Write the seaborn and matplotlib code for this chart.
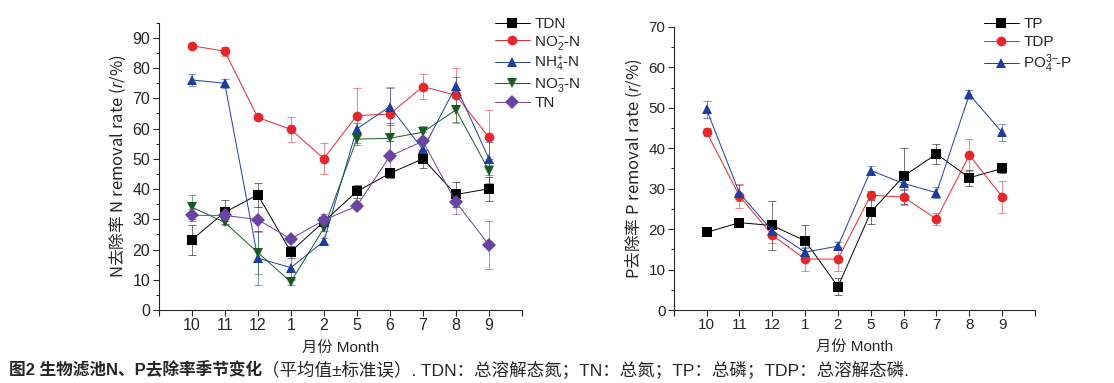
import matplotlib
matplotlib.use('Agg')
import matplotlib.pyplot as plt
import pandas as pd
import seaborn as sns
from matplotlib.ticker import MultipleLocator

###########################################################################################
# data

months = ['10', '11', '12', '1', '2', '5', '6', '7', '8', '9']

# N removal rates
tdn = [23.2, 32.3, 38.1, 19.3, 29.2, 39.2, 45.2, 50.0, 38.2, 40.1]
tdn_err = [5.0, 4.0, 4.0, 2.0, 1.5, 2.0, 1.5, 3.0, 4.0, 4.0]
no2 = [87.4, 85.6, 63.7, 59.7, 50.1, 64.3, 64.8, 73.9, 71.0, 57.1]
no2_err = [1.0, 1.5, 1.0, 4.0, 5.0, 9.0, 9.0, 4.0, 9.0, 9.0]
nh4 = [76.1, 75.0, 17.2, 14.0, 22.7, 59.9, 67.3, 53.1, 74.0, 50.0]
nh4_err = [2.0, 1.5, 9.0, 4.0, 1.0, 2.0, 6.0, 3.0, 3.0, 5.5]
no3 = [34.0, 29.0, 19.0, 9.3, 27.0, 56.5, 56.8, 58.8, 66.2, 46.1]
no3_err = [4.0, 1.0, 7.0, 1.0, 1.0, 2.0, 5.0, 2.0, 4.0, 4.0]
tn = [31.3, 31.3, 29.9, 23.5, 29.7, 34.4, 50.9, 55.8, 35.7, 21.5]
tn_err = [2.0, 2.0, 4.0, 1.0, 2.0, 1.0, 5.0, 3.0, 4.0, 8.0]

# P removal rates
tp = [19.2, 21.6, 20.9, 17.1, 5.8, 24.2, 33.1, 38.6, 32.7, 35.0]
tp_err = [0.8, 1.0, 6.0, 4.0, 2.0, 3.0, 7.0, 2.5, 2.0, 1.0]
tdp = [44.0, 28.2, 18.5, 12.6, 12.6, 28.4, 27.9, 22.5, 38.3, 28.0]
tdp_err = [1.0, 3.0, 2.0, 3.0, 3.0, 1.0, 2.0, 1.5, 4.0, 4.0]
po4 = [49.6, 28.9, 19.6, 14.3, 15.8, 34.5, 31.3, 29.0, 53.3, 43.9]
po4_err = [2.0, 2.0, 1.5, 1.0, 1.0, 1.0, 1.5, 1.3, 1.0, 2.0]

n_labels = ['TDN', r'NO$_2^{-}$-N', r'NH$_4^{+}$-N', r'NO$_3^{-}$-N', 'TN']
p_labels = ['TP', 'TDP', r'PO$_4^{3\!-}\!\!$-P']

###########################################################################################
# styling

sns.set_style('ticks')
plt.rcParams['font.family'] = ['Liberation Sans', 'Noto Sans CJK SC']
plt.rcParams['mathtext.fontset'] = 'custom'
plt.rcParams['mathtext.rm'] = 'Liberation Sans'
plt.rcParams['mathtext.it'] = 'Liberation Sans:italic'
plt.rcParams['axes.unicode_minus'] = False

n_colors = ['#000000', '#e3272d', '#1c3f9e', '#175c25', '#6b43a3']
n_markers = ['s', 'o', '^', 'v', 'D']
p_colors = ['#000000', '#e3272d', '#1c3f9e']
p_markers = ['s', 'o', '^']


def draw_panel(ax, series, errors, labels, colors, markers, ylim, tick_size, label_size, ylabel):
    # long form table for seaborn
    frames = []
    for vals, lab in zip(series, labels):
        frames.append(pd.DataFrame({'pos': range(len(months)), 'rate': vals, 'series': lab}))
    df = pd.concat(frames, ignore_index=True)

    # error bars first, so markers sit on top
    for vals, err, c in zip(series, errors, colors):
        ax.errorbar(range(len(months)), vals, yerr=err, fmt='none', ecolor=c,
                    elinewidth=0.7, capsize=3, capthick=0.7, alpha=0.55, zorder=1)

    sns.lineplot(data=df, x='pos', y='rate', hue='series', style='series',
                 hue_order=labels, style_order=labels,
                 palette=dict(zip(labels, colors)),
                 markers=dict(zip(labels, markers)), dashes=False,
                 markersize=7, markeredgewidth=0, linewidth=0.7, ax=ax, zorder=3)

    ax.set_xlim(-1, 10)
    ax.set_ylim(*ylim)
    ax.set_xticks(range(-1, 11))
    ax.set_xticklabels([''] + months + [''])
    ax.yaxis.set_major_locator(MultipleLocator(10))
    ax.yaxis.set_minor_locator(MultipleLocator(5))
    ax.tick_params(axis='both', which='major', direction='out', length=4, width=0.8,
                   labelsize=tick_size, pad=2)
    ax.tick_params(axis='y', which='minor', direction='out', length=2, width=0.8)
    ax.spines['top'].set_visible(False)
    ax.spines['right'].set_visible(False)
    ax.set_xlabel('月份 Month', fontsize=11, labelpad=6)
    # whole label in the CJK family, only the italic r comes from mathtext
    ax.set_ylabel(ylabel, fontsize=label_size, labelpad=3,
                  fontfamily='Noto Sans CJK SC')
    ax.get_legend().remove()
    return ax


fig = plt.figure(figsize=(11.14, 3.83), dpi=100)
ax1 = fig.add_axes([0.1424, 0.1906, 0.3262, 0.750])
ax2 = fig.add_axes([0.6048, 0.1906, 0.3243, 0.739])

draw_panel(ax1, [tdn, no2, nh4, no3, tn], [tdn_err, no2_err, nh4_err, no3_err, tn_err],
           n_labels, n_colors, n_markers, (0, 95), 11.5, 12,
           r'N去除率 N removal rate ($\mathit{r}$/%)')
draw_panel(ax2, [tp, tdp, po4], [tp_err, tdp_err, po4_err],
           p_labels, p_colors, p_markers, (0, 70), 11, 12,
           r'P去除率 P removal rate ($\mathit{r}$/%)')

# legends
for ax, anchor, spacing in [(ax1, (0.444, 0.955), 0.15), (ax2, (0.883, 0.955), 0.25)]:
    handles, labels = ax.get_legend_handles_labels()
    ax.legend(handles, labels, loc='upper left', bbox_to_anchor=anchor,
              bbox_transform=fig.transFigure, frameon=False, fontsize=11,
              borderpad=0, borderaxespad=0, handlelength=2.3, handletextpad=0.3,
              labelspacing=spacing)

# caption
t1 = fig.text(0.008, 0.034, '图2 生物滤池N、P去除率季节变化', fontsize=12,
              fontweight='bold', va='center')
ax1.annotate('（平均值±标准误）. TDN：总溶解态氮；TN：总氮；TP：总磷；TDP：总溶解态磷.',
             xy=(1, 0.5), xycoords=t1, va='center', fontsize=12.6,
             annotation_clip=False)

fig.savefig('out.png', dpi=100)
